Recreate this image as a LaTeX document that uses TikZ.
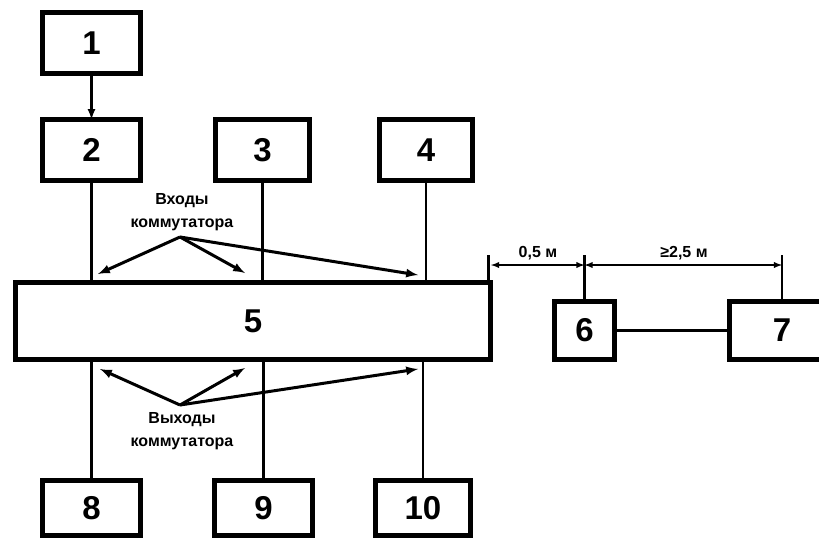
\documentclass[tikz,border=0pt]{standalone}
\usepackage{fontspec}
\setmainfont{Liberation Sans}
\usetikzlibrary{arrows}

\begin{document}
\begin{tikzpicture}[x=1pt,y=-1pt]
	\tikzstyle{every node}=[inner sep=0pt, outer sep=0pt]
	\tikzstyle{box}=[draw, line width=4.5pt, font=\bfseries\fontsize{33}{33}\selectfont]
	\tikzstyle{lbl}=[align=center, font=\bfseries\fontsize{16}{23}\selectfont]
	\tikzstyle{dim}=[font=\bfseries\fontsize{16}{16}\selectfont]
	\path[use as bounding box, clip] (0,0) rectangle (819,539);
	\fill[white] (0,0) rectangle (819,539);
	\draw (91.5,43) node (b1) [box, minimum width=98pt, minimum height=61pt] {1};
	\draw (91.5,150) node (b2) [box, minimum width=98pt, minimum height=61pt] {2};
	\draw (262.5,150) node (b3) [box, minimum width=94pt, minimum height=61pt] {3};
	\draw (426,150) node (b4) [box, minimum width=93pt, minimum height=61pt] {4};
	\draw (253,321) node (b5) [box, minimum width=475pt, minimum height=77pt] {5};
	\draw (584.5,330.5) node (b6) [box, minimum width=60pt, minimum height=58pt] {6};
	\draw (782,330.5) node (b7) [box, minimum width=105pt, minimum height=58pt] {7};
	\draw (91.5,508) node (b8) [box, minimum width=98pt, minimum height=55pt] {8};
	\draw (263.5,508) node (b9) [box, minimum width=98pt, minimum height=55pt] {9};
	\draw (423,508) node (b10) [box, minimum width=95pt, minimum height=55pt] {10};
	% connections
	\draw[line width=2.5pt, -latex] (b1) -- (b2);
	\draw[line width=2.5pt] (b2.south) -- (b2.south |- b5.north);
	\draw[line width=2.5pt] (b3.south) -- (b3.south |- b5.north);
	\draw[line width=2.5pt] (b4.south) -- (b4.south |- b5.north);
	\draw[line width=2.5pt] (b8.north) -- (b8.north |- b5.south);
	\draw[line width=2.5pt] (b9.north) -- (b9.north |- b5.south);
	\draw[line width=2.5pt] (b10.north) -- (b10.north |- b5.south);
	\draw[line width=2.5pt] (b6) -- (b7);
	% inputs / outputs
	\draw (182,212) node (inlbl) [lbl] {Входы\\коммутатора};
	\draw (182,431) node (outlbl) [lbl] {Выходы\\коммутатора};
	\coordinate (inapex) at (180,237);
	\coordinate (outapex) at (180,405);
	\draw[line width=3pt, -latex] (inapex) -- (98,274);
	\draw[line width=3pt, -latex] (inapex) -- (245,273);
	\draw[line width=3pt, -latex] (inapex) -- (418,275);
	\draw[line width=3pt, -latex] (outapex) -- (100,369);
	\draw[line width=3pt, -latex] (outapex) -- (245,368);
	\draw[line width=3pt, -latex] (outapex) -- (418,369);
	% dimensions
	\coordinate (d1) at (491,265);
	\coordinate (d2) at (b6.north |- d1);
	\coordinate (d3) at (b7.north |- d1);
	\draw[line width=2.5pt] (b5.north east) ++(-2,0) -- ++(0,-28);
	\draw[line width=2.5pt] (b6.north) -- ++(0,-47);
	\draw[line width=2.5pt] (b7.north) -- ++(0,-47);
	\draw[line width=1.8pt, latex-latex] (d1) -- (d2);
	\draw[line width=1.8pt, latex-latex] (d2) -- (d3);
	\draw (538,253) node (dimA) [dim] {0,5 м};
	\draw (684,253) node (dimB) [dim] {≥2,5 м};
\end{tikzpicture}
\end{document}
